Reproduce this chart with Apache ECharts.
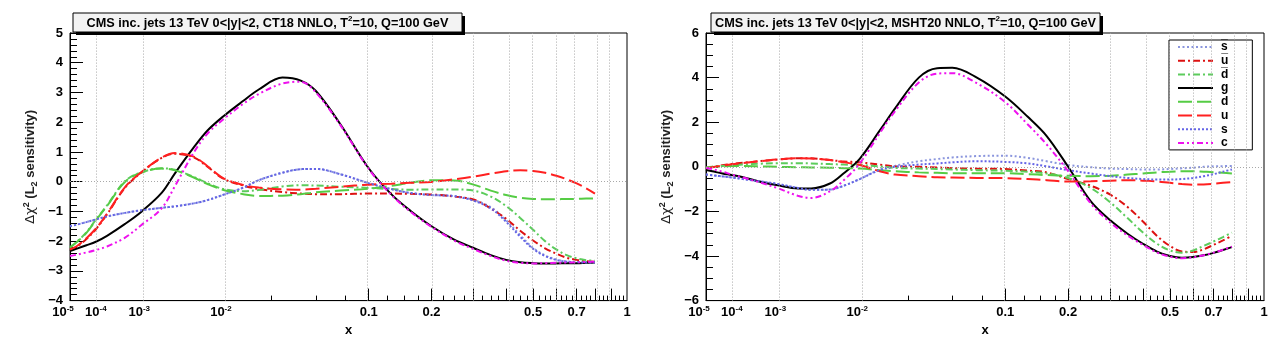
<!DOCTYPE html>
<html>
<head>
<meta charset="utf-8">
<script src="https://cdn.jsdelivr.net/npm/echarts@6/dist/echarts.min.js"></script>
<style>
  html, body { margin: 0; padding: 0; background: #fff; }
  #chart { width: 1278px; height: 342px; }
</style>
</head>
<body>
<div id="chart"></div>
<script>
// Momentum fraction x at which every curve is sampled
const X = [1e-5, 2e-5, 5e-5, 1e-4, 2e-4, 5e-4, 1e-3, 2e-3, 3e-3, 5e-3, 7e-3,
           0.01, 0.015, 0.02, 0.03, 0.04, 0.05, 0.07, 0.1, 0.13, 0.16, 0.2,
           0.25, 0.3, 0.35, 0.4, 0.45, 0.5, 0.55, 0.6, 0.65, 0.7, 0.75, 0.8];

// L2 sensitivity, CT18 NNLO
const CT18_SBAR = [-1.5, -1.45, -1.36, -1.27, -1.17, -1.05, -0.96, -0.88, -0.83, -0.73, -0.62,
                   -0.44, -0.2, 0.05, 0.3, 0.42, 0.43, 0.25, -0.05, -0.25, -0.38, -0.45,
                   -0.48, -0.62, -0.86, -1.3, -1.8, -2.23, -2.48, -2.62, -2.68, -2.7, -2.71, -2.72];
const CT18_UBAR = [-2.3, -2.2, -1.93, -1.6, -1.1, -0.2, 0.32, 0.8, 0.94, 0.82, 0.5,
                   0.1, -0.13, -0.25, -0.35, -0.4, -0.42, -0.42, -0.4, -0.4, -0.41, -0.43,
                   -0.5, -0.6, -0.9, -1.25, -1.65, -1.98, -2.24, -2.42, -2.56, -2.63, -2.67, -2.7];
const CT18_DBAR = [-2.2, -2.04, -1.7, -1.28, -0.8, 0.02, 0.32, 0.45, 0.4, 0.16, -0.05,
                   -0.25, -0.32, -0.28, -0.16, -0.12, -0.13, -0.17, -0.21, -0.25, -0.27, -0.26,
                   -0.26, -0.3, -0.5, -0.82, -1.22, -1.62, -2.0, -2.28, -2.47, -2.58, -2.64, -2.66];
const CT18_G    = [-2.33, -2.26, -2.14, -2.02, -1.82, -1.42, -1.0, -0.38, 0.28, 1.15, 1.72,
                   2.2, 2.72, 3.1, 3.5, 3.4, 3.05, 1.93, 0.45, -0.42, -0.97, -1.5,
                   -1.95, -2.23, -2.47, -2.63, -2.71, -2.74, -2.75, -2.75, -2.74, -2.74, -2.73, -2.72];
const CT18_D    = [-2.22, -2.05, -1.72, -1.3, -0.82, 0.0, 0.31, 0.44, 0.38, 0.14, -0.08,
                   -0.28, -0.42, -0.48, -0.47, -0.42, -0.36, -0.3, -0.24, -0.14, -0.04, 0.05,
                   0.04, -0.1, -0.3, -0.45, -0.54, -0.58, -0.59, -0.59, -0.58, -0.58, -0.57, -0.57];
const CT18_U    = [-2.28, -2.18, -1.9, -1.58, -1.08, -0.18, 0.33, 0.81, 0.96, 0.84, 0.52,
                   0.11, -0.11, -0.2, -0.26, -0.27, -0.24, -0.17, -0.1, -0.07, -0.04, -0.01,
                   0.08, 0.17, 0.27, 0.35, 0.38, 0.36, 0.3, 0.2, 0.08, -0.06, -0.22, -0.4];
const CT18_S    = [-1.5, -1.45, -1.36, -1.27, -1.17, -1.05, -0.96, -0.88, -0.83, -0.73, -0.62,
                   -0.44, -0.2, 0.05, 0.3, 0.42, 0.43, 0.25, -0.05, -0.25, -0.38, -0.45,
                   -0.49, -0.64, -0.9, -1.35, -1.85, -2.26, -2.5, -2.63, -2.69, -2.71, -2.72, -2.72];
const CT18_C    = [-2.5, -2.46, -2.38, -2.3, -2.18, -1.88, -1.45, -0.9, -0.15, 0.98, 1.62,
                   2.1, 2.62, 2.95, 3.3, 3.36, 3.0, 1.9, 0.43, -0.44, -1.0, -1.52,
                   -1.98, -2.27, -2.5, -2.66, -2.73, -2.75, -2.74, -2.73, -2.72, -2.71, -2.7, -2.69];

// L2 sensitivity, MSHT20 NNLO
const MSHT_SBAR = [-0.35, -0.38, -0.43, -0.48, -0.55, -0.66, -0.77, -0.95, -1.03, -1.02, -0.85,
                   -0.55, -0.12, 0.05, 0.25, 0.35, 0.42, 0.48, 0.5, 0.4, 0.25, 0.08,
                   -0.02, -0.08, -0.1, -0.12, -0.12, -0.1, -0.07, -0.04, 0.0, 0.02, 0.03, 0.04];
const MSHT_UBAR = [-0.04, 0.0, 0.07, 0.13, 0.18, 0.26, 0.33, 0.38, 0.38, 0.3, 0.24,
                   0.2, 0.1, 0.02, 0.0, -0.03, -0.06, -0.08, -0.1, -0.17, -0.25, -0.55,
                   -0.85, -1.25, -1.8, -2.45, -3.1, -3.55, -3.8, -3.82, -3.7, -3.5, -3.3, -3.1];
const MSHT_DBAR = [-0.04, 0.0, 0.04, 0.07, 0.1, 0.14, 0.16, 0.16, 0.15, 0.12, 0.1,
                   0.08, 0.02, -0.05, -0.08, -0.1, -0.12, -0.15, -0.18, -0.22, -0.3, -0.5,
                   -0.95, -1.6, -2.3, -2.95, -3.45, -3.75, -3.85, -3.75, -3.55, -3.35, -3.15, -2.95];
const MSHT_G    = [-0.14, -0.2, -0.3, -0.37, -0.47, -0.68, -0.83, -0.97, -0.97, -0.75, -0.29,
                   0.36, 1.62, 2.62, 4.0, 4.42, 4.44, 4.0, 3.15, 2.24, 1.38, 0.0,
                   -1.55, -2.4, -3.0, -3.45, -3.8, -4.0, -4.08, -4.05, -3.97, -3.86, -3.73, -3.6];
const MSHT_D    = [-0.04, -0.01, 0.02, 0.04, 0.04, 0.02, 0.0, -0.02, -0.03, -0.04, -0.06,
                   -0.08, -0.15, -0.2, -0.25, -0.27, -0.29, -0.29, -0.29, -0.33, -0.37, -0.4,
                   -0.42, -0.4, -0.35, -0.3, -0.25, -0.22, -0.2, -0.2, -0.22, -0.24, -0.27, -0.3];
const MSHT_U    = [-0.07, -0.02, 0.05, 0.11, 0.17, 0.25, 0.33, 0.38, 0.37, 0.3, 0.2,
                   0.08, -0.2, -0.35, -0.42, -0.47, -0.48, -0.5, -0.51, -0.55, -0.6, -0.66,
                   -0.65, -0.62, -0.6, -0.62, -0.66, -0.72, -0.77, -0.8, -0.79, -0.76, -0.72, -0.68];
const MSHT_S    = [-0.35, -0.38, -0.43, -0.48, -0.55, -0.66, -0.77, -0.95, -1.03, -1.02, -0.85,
                   -0.55, -0.15, 0.0, 0.1, 0.15, 0.2, 0.25, 0.22, 0.15, 0.02, -0.15,
                   -0.3, -0.42, -0.5, -0.55, -0.57, -0.57, -0.55, -0.5, -0.42, -0.33, -0.22, -0.12];
const MSHT_C    = [-0.04, -0.1, -0.22, -0.35, -0.48, -0.72, -0.96, -1.3, -1.4, -1.1, -0.6,
                   0.15, 1.5, 2.5, 3.78, 4.18, 4.2, 3.75, 2.9, 1.9, 1.0, -0.2,
                   -1.65, -2.5, -3.08, -3.5, -3.84, -4.03, -4.1, -4.06, -3.97, -3.85, -3.72, -3.58];

// Legend entries (anti-quarks carry an overline)
const PARTON_NAMES = ['s\u0305', 'u\u0305', 'd\u0305', 'g', 'd', 'u', 's', 'c'];

// x-axis labels, dotted grid positions and tick positions
const X_RANGE = [1e-5, 1];
const X_LABEL_VALUES = [1e-5, 1e-4, 1e-3, 1e-2, 0.1, 0.2, 0.5, 0.7, 1];
const X_LABEL_TEXT = ['{n|10}{e|-5}{gap|}', '{n|10}{e|-4}', '{n|10}{e|-3}{gap2|}', '{n|10}{e|-2}{gap2|}',
                      '{n|0.1}', '{n|0.2}', '{n|0.5}', '{n|0.7}', '{n|1}'];
const X_GRID_VALUES = [1e-4, 1e-3, 1e-2, 0.1, 0.2, 0.3, 0.4, 0.5, 0.6, 0.7, 0.8, 0.9];
const X_MAJOR_TICKS = [0.1, 0.2, 0.3, 0.4, 0.5, 0.6, 0.7, 0.8, 0.9];
const X_MINOR_TICKS = [];
for (let k = 1; k < 40; k++) if (k % 4 !== 0) X_MINOR_TICKS.push(k * 0.025);

const PANEL_TITLES = [
  '{t|CMS inc. jets 13 TeV 0<|y|<2, CT18 NNLO, T}{s|2}{t|=10, Q=100 GeV}',
  '{t|CMS inc. jets 13 TeV 0<|y|<2, MSHT20 NNLO, T}{s|2}{t|=10, Q=100 GeV}'
];
const Y_TITLE = '{g|\u0394\u03c7}{sp|2}{b| (L}{sb|2}{b| sensitivity)}';

// The horizontal axis runs linearly in x^(1/4)
const Q = v => Math.pow(v, 0.25);

const FONT = '"Liberation Sans", Arial, Helvetica, sans-serif';

const panels = [
  { left: 70, width: 557, yMin: -4, yMax: 5, yStep: 1, yMinor: 5, titleX: 73, titleW: 389,
    curves: [CT18_SBAR, CT18_UBAR, CT18_DBAR, CT18_G, CT18_D, CT18_U, CT18_S, CT18_C] },
  { left: 706, width: 558, yMin: -6, yMax: 6, yStep: 2, yMinor: 4, titleX: 711, titleW: 389,
    curves: [MSHT_SBAR, MSHT_UBAR, MSHT_DBAR, MSHT_G, MSHT_D, MSHT_U, MSHT_S, MSHT_C] }
];

const lineStyles = [
  { color: '#8a95dd', width: 2, type: [2, 2.5] },          // s-bar
  { color: '#dd1111', width: 2, type: [7, 3, 2, 3] },      // u-bar
  { color: '#5ccc5c', width: 2, type: [7, 3, 2, 3] },      // d-bar
  { color: '#000000', width: 2, type: 'solid' },           // g
  { color: '#55cc44', width: 2, type: [14, 5] },           // d
  { color: '#ff2020', width: 2, type: [14, 5] },           // u
  { color: '#6464e6', width: 2, type: [2, 2] },            // s
  { color: '#ee11ee', width: 2, type: [6, 3, 2, 3, 2, 3] } // c
];

const xLabelFormatter = v => {
  let best = 0;
  X_LABEL_VALUES.forEach((xv, k) => {
    if (Math.abs(Q(xv) - v) < Math.abs(Q(X_LABEL_VALUES[best]) - v)) best = k;
  });
  return X_LABEL_TEXT[best];
};

const PLOT_TOP = 33, PLOT_HEIGHT = 275;
const grid = [], xAxis = [], yAxis = [], series = [], graphic = [];

panels.forEach((p, i) => {
  grid.push({ left: p.left, top: PLOT_TOP, width: p.width, height: PLOT_HEIGHT, show: true,
              borderColor: '#000', borderWidth: 1, backgroundColor: 'transparent' });

  xAxis.push({
    type: 'value', gridIndex: i, position: 'bottom',
    min: Q(X_RANGE[0]), max: Q(X_RANGE[1]),
    axisLine: { show: true, onZero: false, lineStyle: { color: '#000', width: 1 } },
    axisTick: { show: true, inside: true, length: 12, customValues: X_MAJOR_TICKS.map(Q),
                lineStyle: { color: '#000', width: 1 } },
    axisLabel: {
      customValues: X_LABEL_VALUES.map(Q), formatter: xLabelFormatter, margin: 4,
      hideOverlap: false,
      rich: {
        n: { fontFamily: FONT, fontWeight: 'bold', fontSize: 13, color: '#000', lineHeight: 16 },
        e: { fontFamily: FONT, fontWeight: 'bold', fontSize: 8, color: '#000', verticalAlign: 'top', lineHeight: 9 },
        gap: { width: 14 },
        gap2: { width: 5 }
      }
    },
    splitLine: { show: false },
    name: 'x', nameLocation: 'middle', nameGap: 21,
    nameTextStyle: { fontFamily: FONT, fontWeight: 'bold', fontSize: 13, color: '#000' }
  });
  xAxis.push({
    type: 'value', gridIndex: i, position: 'bottom',
    min: Q(X_RANGE[0]), max: Q(X_RANGE[1]),
    axisLine: { show: false, onZero: false },
    axisTick: { show: true, inside: true, length: 5, customValues: X_MINOR_TICKS.map(Q),
                lineStyle: { color: '#000', width: 1 } },
    axisLabel: { show: false },
    splitLine: { show: false }
  });

  yAxis.push({
    type: 'value', gridIndex: i, min: p.yMin, max: p.yMax, interval: p.yStep,
    axisLine: { show: true, onZero: false, lineStyle: { color: '#000', width: 1 } },
    axisTick: { show: true, inside: true, length: 13, lineStyle: { color: '#000', width: 1 } },
    minorTick: { show: true, splitNumber: p.yMinor, length: 7, lineStyle: { color: '#000', width: 1 } },
    splitLine: { show: false },
    axisLabel: {
      formatter: v => (v < 0 ? '\u2212' : '') + Math.abs(v),
      fontFamily: FONT, fontWeight: 'bold', fontSize: 13, color: '#000', margin: 7
    },
    name: Y_TITLE, nameLocation: 'middle', nameRotate: 90, nameGap: 31,
    nameTextStyle: {
      color: '#222',
      rich: {
        g: { fontFamily: '"DejaVu Sans", sans-serif', fontSize: 13, color: '#222', lineHeight: 17 },
        sp: { fontFamily: FONT, fontWeight: 'bold', fontSize: 9, color: '#222', verticalAlign: 'top', lineHeight: 10 },
        b: { fontFamily: FONT, fontWeight: 'bold', fontSize: 13, color: '#222', lineHeight: 17 },
        sb: { fontFamily: FONT, fontWeight: 'bold', fontSize: 9, color: '#222', verticalAlign: 'bottom', lineHeight: 10 }
      }
    }
  });

  // Dotted reference lines: zero line and x grid
  series.push({
    type: 'line', xAxisIndex: 2 * i, yAxisIndex: i, data: [], silent: true,
    markLine: {
      silent: true, symbol: ['none', 'none'], animation: false,
      label: { show: false },
      lineStyle: { color: '#a8a8a8', type: [1, 2], width: 1 },
      emphasis: { disabled: true },
      data: X_GRID_VALUES.map(v => ({ xAxis: Q(v) })).concat([{ yAxis: 0 }])
    }
  });

  p.curves.forEach((vals, k) => {
    series.push({
      type: 'line', name: PARTON_NAMES[k], xAxisIndex: 2 * i, yAxisIndex: i,
      data: X.map((x, j) => [Q(x), vals[j]]),
      symbol: 'none', showSymbol: false, smooth: 0.35, clip: true,
      lineStyle: lineStyles[k], itemStyle: { color: lineStyles[k].color },
      emphasis: { disabled: true }, animation: false
    });
  });

  // Title box with drop shadow
  graphic.push(
    { type: 'rect', z: 100, shape: { x: p.titleX + 3, y: 16, width: p.titleW, height: 19 },
      style: { fill: '#000' } },
    { type: 'rect', z: 101, shape: { x: p.titleX, y: 13, width: p.titleW, height: 19 },
      style: { fill: '#f3f3f3', stroke: '#000', lineWidth: 1 } },
    { type: 'text', z: 102, x: p.titleX + p.titleW / 2, y: 23,
      style: {
        text: PANEL_TITLES[i], align: 'center', verticalAlign: 'middle',
        rich: {
          t: { fontFamily: FONT, fontWeight: 'bold', fontSize: 12.7, fill: '#000', lineHeight: 16 },
          s: { fontFamily: FONT, fontWeight: 'bold', fontSize: 8, fill: '#000', verticalAlign: 'top', lineHeight: 9 }
        }
      } }
  );
});

const chart = echarts.init(document.getElementById('chart'), null, { renderer: 'canvas' });
chart.setOption({
  backgroundColor: '#fff',
  animation: false,
  grid, xAxis, yAxis, series, graphic,
  legend: {
    data: PARTON_NAMES, orient: 'vertical', left: 1169, top: 40,
    padding: [1, 24, 1, 8], itemGap: 1.7, itemWidth: 35, itemHeight: 10,
    backgroundColor: '#fff', borderColor: '#000', borderWidth: 1,
    selectedMode: false,
    itemStyle: { opacity: 0 },
    textStyle: { fontFamily: '"Liberation Sans", "DejaVu Sans", sans-serif', fontWeight: 'bold',
                 fontSize: 12, color: '#000', lineHeight: 12, padding: [0, 0, 0, 3] }
  }
});
</script>
</body>
</html>
